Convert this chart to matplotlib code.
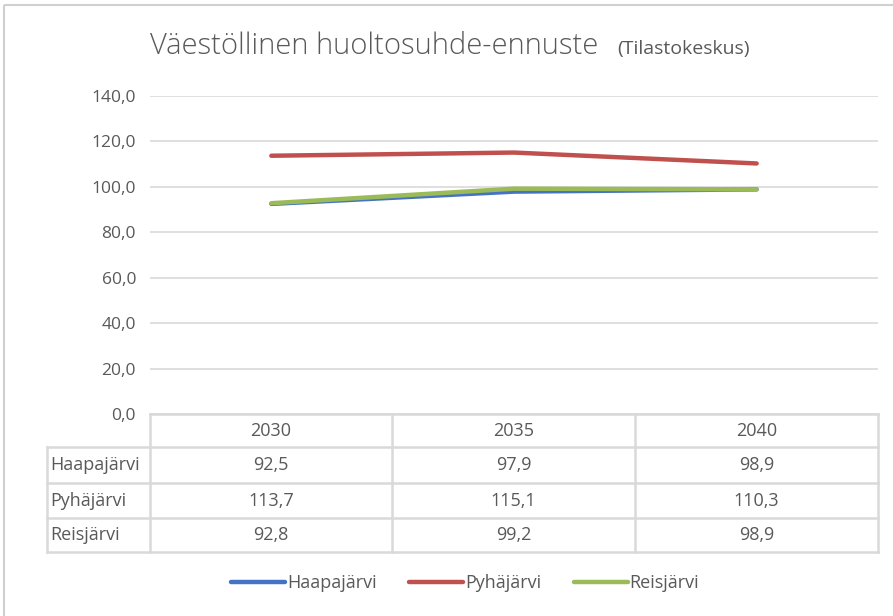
import numpy as np
import matplotlib.pyplot as plt
from matplotlib.patches import Rectangle

# -----------------------------------------------------------------------------
# Datos
# -----------------------------------------------------------------------------
years = ["2030", "2035", "2040"]
series_names = ["Haapajärvi", "Pyhäjärvi", "Reisjärvi"]
haapajarvi = [92.5, 97.9, 98.9]
pyhajarvi = [113.7, 115.1, 110.3]
reisjarvi = [92.8, 99.2, 98.9]
y_ticks = [0, 20, 40, 60, 80, 100, 120, 140]

colors = ["#4472C4", "#C0504D", "#9BBB59"]
grid_c = "#D9D9D9"
txt_c = "#595959"
plt.rcParams['font.family'] = ['Open Sans', 'DejaVu Sans']

W, H = 893, 616
fig = plt.figure(figsize=(W/100, H/100), dpi=100)

def fx(px): return px / W
def fy(py): return 1 - py / H

# capa de fondo en pixeles (borde, tabla, titulo)
bg = fig.add_axes([0, 0, 1, 1])
bg.set_xlim(0, W)
bg.set_ylim(H, 0)
bg.axis('off')
bg.add_patch(Rectangle((4, 5), W + 10, H + 10, fill=False, ec="#D0D0D0", lw=1.5))

# -----------------------------------------------------------------------------
# Grafico de lineas
# -----------------------------------------------------------------------------
x_l, x_r, y_top, y_bot = 150, 878, 96, 414
ax = fig.add_axes([fx(x_l), fy(y_bot), fx(x_r - x_l), (y_bot - y_top) / H])
x = np.arange(len(years))
for vals, c in zip([haapajarvi, pyhajarvi, reisjarvi], colors):
    ax.plot(x, vals, color=c, lw=3.2, solid_capstyle='round')
ax.set_xlim(-0.5, len(years) - 0.5)
ax.set_ylim(0, 140)
ax.set_yticks(y_ticks)
ax.set_yticklabels([f"{v:.1f}".replace(".", ",") for v in y_ticks], color=txt_c, fontsize=12.5)
ax.tick_params(axis='y', length=0, pad=10)
ax.set_xticks([])
ax.grid(axis='y', color=grid_c, lw=1.2)
ax.set_axisbelow(True)
for s in ax.spines.values():
    s.set_visible(False)
ax.patch.set_alpha(0)

# -----------------------------------------------------------------------------
# Tabla de datos
# -----------------------------------------------------------------------------
col_x = [150, 392, 635, 878]
row_y = [414, 447, 483, 518, 552]
lab_l = 47
lw_t = 1.8
fs_t = 13
bg.plot([col_x[0], col_x[-1]], [row_y[0], row_y[0]], color=grid_c, lw=lw_t)
for yy in row_y[1:]:
    bg.plot([lab_l, col_x[-1]], [yy, yy], color=grid_c, lw=lw_t)
for xx in col_x:
    bg.plot([xx, xx], [row_y[0], row_y[-1]], color=grid_c, lw=lw_t)
bg.plot([lab_l, lab_l], [row_y[1], row_y[-1]], color=grid_c, lw=lw_t)

for j, yr in enumerate(years):
    cx = (col_x[j] + col_x[j + 1]) / 2
    bg.text(cx, (row_y[0] + row_y[1]) / 2, yr, ha='center', va='center', color=txt_c, fontsize=fs_t)
for i, (name, vals) in enumerate(zip(series_names, [haapajarvi, pyhajarvi, reisjarvi])):
    cy = (row_y[i + 1] + row_y[i + 2]) / 2
    bg.text(lab_l + 3, cy, name, ha='left', va='center', color=txt_c, fontsize=fs_t)
    for j, v in enumerate(vals):
        cx = (col_x[j] + col_x[j + 1]) / 2
        bg.text(cx, cy, f"{v:.1f}".replace(".", ","), ha='center', va='center', color=txt_c, fontsize=fs_t)

# Titulo
bg.text(150, 46, "Väestöllinen huoltosuhde-ennuste", ha='left', va='center',
        color=txt_c, fontsize=21, fontweight='light')
bg.text(617, 49, "(Tilastokeskus)", ha='left', va='center', color=txt_c, fontsize=14)

# Leyenda
handles = [plt.Line2D([], [], color=c, lw=3.2, solid_capstyle='round') for c in colors]
fig.legend(handles, series_names, loc='center', bbox_to_anchor=(fx(465), fy(583)),
           ncol=3, frameon=False, handlelength=3.0, handletextpad=0.1,
           columnspacing=1.8, labelcolor=txt_c, fontsize=13)

fig.savefig("out.png", dpi=100)
